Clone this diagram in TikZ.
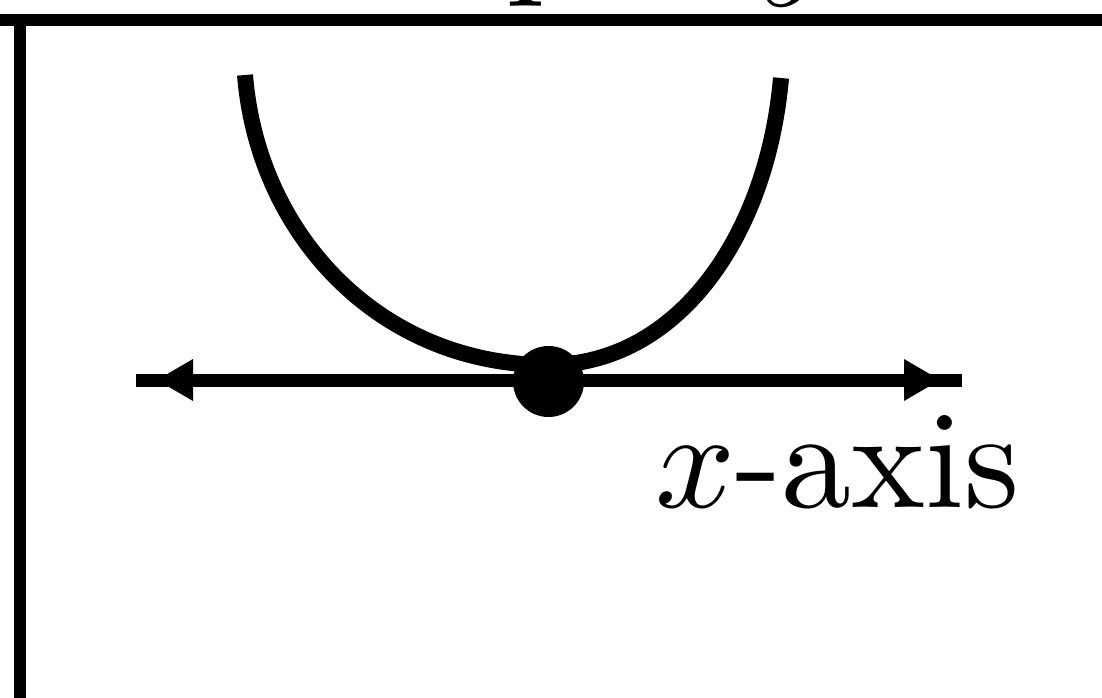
\documentclass[tikz,border=0pt]{standalone}
\usepackage{graphicx}
\usetikzlibrary{calc}
\begin{document}
\begin{tikzpicture}[x=1pt,y=-1pt,
  frame/.style={line width=12pt},
  curve/.style={line width=16pt},
  axisline/.style={line width=13pt},
  tiphead/.style={fill=black},
  lbl/.style={inner sep=0pt,font=\normalsize}]
\useasboundingbox (0,0) rectangle (1102,698);
% frame
\coordinate (fl) at (-10,20);
\coordinate (fr) at (1112,20);
\coordinate (vt) at (20,20);
\coordinate (vb) at (20,710);
\draw[frame] (fl) -- (fr);
\draw[frame] (vt) -- (vb);
% partial title (cut off by the page)
\node[lbl,anchor=base west] (title) at (380,-20) {\scalebox{13.8}{Input $y$}};
% axis
\coordinate (axL) at (136,380);
\coordinate (axR) at (962,380);
\draw[axisline] (axL) -- (axR);
\coordinate (tipL) at (157,380);
\coordinate (tipR) at (940,380);
\fill[tiphead] (tipL) -- ++(36,-21) -- ++(0,42) -- cycle;
\fill[tiphead] (tipR) -- ++(-36,-21) -- ++(0,42) -- cycle;
% curve
\coordinate (cL) at (245,75);
\coordinate (cV) at (548,365);
\coordinate (cR) at (781,78);
\draw[curve] (cL) .. controls (258,236) and (381,365) .. (cV)
  .. controls (677,365) and (767,237) .. (cR);
% dot
\fill (548.5,381.5) circle[radius=35.5];
\node[circle,inner sep=0pt,minimum size=71pt] (dot) at (548.5,381.5) {};
% label
\node[lbl,anchor=base west] (xlab) at (655,507) {\scalebox{14.0}{$x$-axis}};
\end{tikzpicture}
\end{document}
